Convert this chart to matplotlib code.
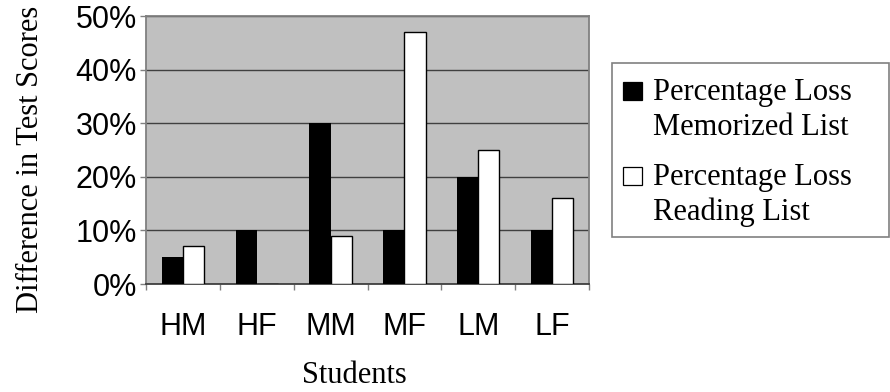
import matplotlib
matplotlib.use("Agg")
import matplotlib.pyplot as plt
import numpy as np
from matplotlib.patches import Rectangle

students = ["HM", "HF", "MM", "MF", "LM", "LF"]
memorized_loss = [5, 10, 30, 10, 20, 10]
reading_loss = [7, 0, 9, 47, 25, 16]
y_ticks = [0, 10, 20, 30, 40, 50]
series_labels = [["Percentage Loss", "Memorized List"],
                 ["Percentage Loss", "Reading List"]]

W, H = 890, 392
fig = plt.figure(figsize=(W / 100, H / 100), dpi=100)


def fx(px):
    return px / W


def fy(py):
    return 1 - py / H


# plot area in pixel terms: left 146, right 589, top 16, bottom 284
ax = fig.add_axes([fx(146), fy(284), fx(589 - 146), (284 - 16) / H])

x = np.arange(len(students))
w = 0.2857
ax.bar(x - w / 2, memorized_loss, width=w, color="black", edgecolor="black",
       linewidth=0, zorder=3)
ax.bar(x + w / 2, reading_loss, width=w, color="white", edgecolor="black",
       linewidth=1.0, zorder=3)

ax.set_facecolor("#C0C0C0")
ax.set_xlim(-0.5, len(students) - 0.5)
ax.set_ylim(0, 50)
ax.set_yticks(y_ticks)
ax.set_yticklabels([f"{v}%" for v in y_ticks], family="Liberation Sans", fontsize=22)
ax.yaxis.grid(True, color="#404040", linewidth=1.0, zorder=1)
ax.set_axisbelow(True)

# category names centred under each group, tick marks between groups
ax.set_xticks(np.arange(-0.5, len(students), 1.0))
ax.set_xticklabels([])
ax.set_xticks(x, minor=True)
ax.set_xticklabels(students, minor=True, family="Liberation Sans", fontsize=22)
ax.tick_params(axis="x", which="minor", length=0, pad=20)
ax.tick_params(axis="x", which="major", length=4.5, width=1.0, color="#808080",
               direction="out")
ax.tick_params(axis="y", length=4.5, width=1.0, color="#808080", direction="out", pad=2)

for s in ax.spines.values():
    s.set_color("#808080")
    s.set_linewidth(1.3)
ax.spines["bottom"].set_color("#404040")

fig.text(fx(354.5), fy(383), "Students", family="Liberation Serif", fontsize=22,
         ha="center", va="baseline")
fig.text(fx(38), fy(159), "Difference in Test Scores", family="Liberation Serif",
         fontsize=22, rotation=90, rotation_mode="anchor", ha="center", va="baseline")

# legend box
fig.patches.append(Rectangle((fx(612), fy(237)), fx(889 - 612), (237 - 63) / H,
                             transform=fig.transFigure, facecolor="white",
                             edgecolor="#808080", linewidth=1.2))
swatches = [("black", 82), ("white", 167)]
baselines = [(100, 135), (185, 220)]
for (fc, top), lines, bls in zip(swatches, series_labels, baselines):
    fig.patches.append(Rectangle((fx(623), fy(top + 18)), fx(19), 18 / H,
                                 transform=fig.transFigure, facecolor=fc,
                                 edgecolor="black", linewidth=0.9))
    for txt, bl in zip(lines, bls):
        fig.text(fx(653), fy(bl), txt, family="Liberation Serif", fontsize=22,
                 ha="left", va="baseline")

fig.savefig("out.png", dpi=100)
